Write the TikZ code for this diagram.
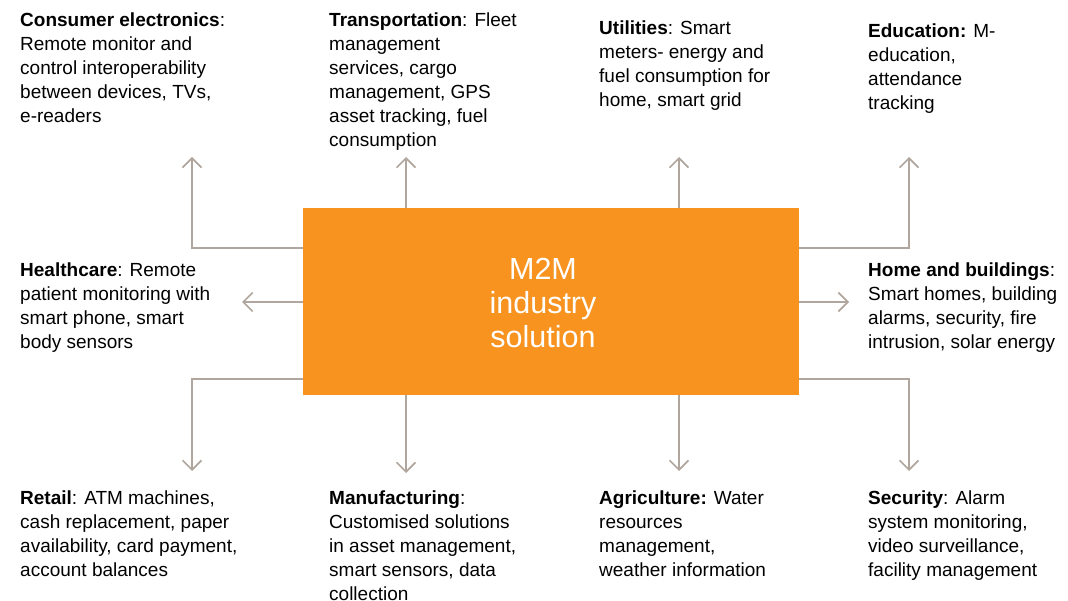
\documentclass[tikz,border=0pt]{standalone}
\usepackage{fontspec}
\setmainfont{Liberation Sans}
\usetikzlibrary{arrows.meta}

\definecolor{hubOrange}{RGB}{247,147,30}
\definecolor{linkGrey}{RGB}{176,166,158}

\begin{document}
\begin{tikzpicture}[x=1pt,y=1pt,yscale=-1,xscale=1,
    link/.style={color=linkGrey, line width=1.7pt, -{Straight Barb[length=9.5pt,width=19pt,line width=1.7pt]}},
    info/.style={anchor=north west, inner sep=0pt, align=left, font=\fontsize{19}{24}\selectfont},
    hub/.style={rectangle, fill=hubOrange, draw=none, minimum width=496pt, minimum height=187pt, inner sep=0pt},
    hubtext/.style={text=white, align=center, inner sep=0pt, font=\fontsize{30.5}{34}\selectfont}]
    %set diagram left start at 0, and has height of 601
    \useasboundingbox (0,0) rectangle (1068,601);

    %Shape: Rectangle [id:hub]
    \node [hub] (hub) at (551,301.5) {};
    \node [hubtext] (title) at (543,303) {M2M\\industry\\solution};

    %Arrow tips
    \coordinate (ceTip) at (192,157);
    \coordinate (trTip) at (406,157);
    \coordinate (utTip) at (679,157);
    \coordinate (edTip) at (909,157);
    \coordinate (hcTip) at (242,302);
    \coordinate (hbTip) at (849,302);
    \coordinate (rtTip) at (192,471);
    \coordinate (mfTip) at (406,473);
    \coordinate (agTip) at (679,471);
    \coordinate (scTip) at (909,471);

    %Straight Lines
    \draw [link] (hub.west |- 0,248) -| (ceTip);
    \draw [link] (hub.north -| trTip) -- (trTip);
    \draw [link] (hub.north -| utTip) -- (utTip);
    \draw [link] (hub.east |- 0,248) -| (edTip);
    \draw [link] (hub.west |- hcTip) -- (hcTip);
    \draw [link] (hub.east |- hbTip) -- (hbTip);
    \draw [link] (hub.west |- 0,379) -| (rtTip);
    \draw [link] (hub.south -| mfTip) -- (mfTip);
    \draw [link] (hub.south -| agTip) -- (agTip);
    \draw [link] (hub.east |- 0,379) -| (scTip);

    % Text Node
    \node [info] (consumer) at (20,13) {\textbf{Consumer electronics}:\\Remote monitor and\\control interoperability\\between devices, TVs,\\e-readers};
    % Text Node
    \node [info] (transport) at (329,13) {\textbf{Transportation}: Fleet\\management\\services, cargo\\management, GPS\\asset tracking, fuel\\consumption};
    % Text Node
    \node [info] (utilities) at (599,21) {\textbf{Utilities}: Smart\\meters- energy and\\fuel consumption for\\home, smart grid};
    % Text Node
    \node [info] (education) at (868,24) {\textbf{Education:} M-\\education,\\attendance\\tracking};
    % Text Node
    \node [info] (health) at (20,263) {\textbf{Healthcare}: Remote\\patient monitoring with\\smart phone, smart\\body sensors};
    % Text Node
    \node [info] (home) at (868,263) {\textbf{Home and buildings}:\\Smart homes, building\\alarms, security, fire\\intrusion, solar energy};
    % Text Node
    \node [info] (retail) at (20,491) {\textbf{Retail}: ATM machines,\\cash replacement, paper\\availability, card payment,\\account balances};
    % Text Node
    \node [info] (manuf) at (329,491) {\textbf{Manufacturing}:\\Customised solutions\\in asset management,\\smart sensors, data\\collection};
    % Text Node
    \node [info] (agri) at (599,491) {\textbf{Agriculture:} Water\\resources\\management,\\weather information};
    % Text Node
    \node [info] (security) at (868,491) {\textbf{Security}: Alarm\\system monitoring,\\video surveillance,\\facility management};
\end{tikzpicture}
\end{document}
